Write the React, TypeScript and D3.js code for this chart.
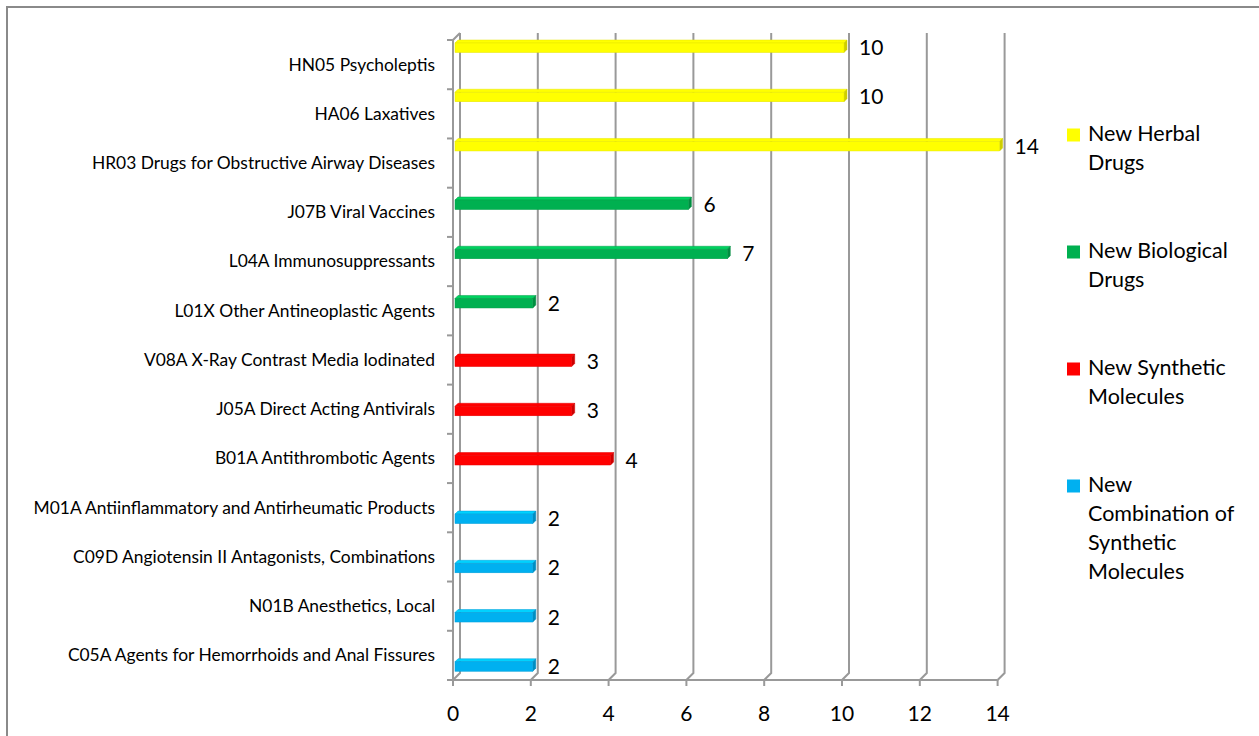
import React from "react";
import * as d3 from "d3";

// ATC categories, top to bottom
const categories = [
  "HN05 Psycholeptis",
  "HA06 Laxatives",
  "HR03 Drugs for Obstructive Airway Diseases",
  "J07B Viral Vaccines",
  "L04A Immunosuppressants",
  "L01X Other Antineoplastic Agents",
  "V08A X-Ray Contrast Media Iodinated",
  "J05A Direct Acting Antivirals",
  "B01A Antithrombotic Agents",
  "M01A Antiinflammatory and Antirheumatic Products",
  "C09D Angiotensin II Antagonists, Combinations",
  "N01B Anesthetics, Local",
  "C05A Agents for Hemorrhoids and Anal Fissures",
];

// series shown top to bottom within each category slot
const seriesNames = [
  "New Herbal Drugs",
  "New Biological Drugs",
  "New Synthetic Molecules",
  "New Combination of Synthetic Molecules",
];
const legendLines = [
  ["New Herbal", "Drugs"],
  ["New Biological", "Drugs"],
  ["New Synthetic", "Molecules"],
  ["New", "Combination of", "Synthetic", "Molecules"],
];
const seriesColors = ["#FFFF00", "#00B050", "#FF0000", "#00B0F0"];

// one value per category; null where the series has no bar
const herbal = [10, 10, 14, null, null, null, null, null, null, null, null, null, null];
const biological = [null, null, null, 6, 7, 2, null, null, null, null, null, null, null];
const synthetic = [null, null, null, null, null, null, 3, 3, 4, null, null, null, null];
const combination = [null, null, null, null, null, null, null, null, null, 2, 2, 2, 2];
const seriesValues = [herbal, biological, synthetic, combination];

const xTicks = [0, 2, 4, 6, 8, 10, 12, 14];

const W = 1259;
const H = 736;
const DX = 7; // wall depth offset
const DY = -7;
const BD = 3; // bar depth

export default function App() {
  const floorY = 680;
  const topY = 40;
  const x = d3.scaleLinear().domain([0, 14]).range([453, 997.6]);
  const y = d3.scaleBand().domain(categories).range([topY, floorY]).padding(0);
  const sub = d3
    .scaleBand<string>()
    .domain(seriesNames)
    .range([3, 3 + 4 * 9.33]);
  const barH = 9.5;
  const grid = "#999999";
  const labelFont = "Lato, 'Open Sans', sans-serif";

  const bars: React.ReactNode[] = [];
  seriesValues.forEach((vals, si) => {
    const base = d3.color(seriesColors[si])!;
    const top = base.brighter(0.5).formatHex();
    const side = base.darker(0.6).formatHex();
    const edge = base.darker(0.3).formatHex();
    vals.forEach((v, ci) => {
      if (v == null) return;
      const y0 = (y(categories[ci]) as number) + (sub(seriesNames[si]) as number);
      const x0 = x(0) + 2;
      const x1 = x(v) + 2;
      bars.push(
        <g key={`b-${si}-${ci}`}>
          <polygon
            points={`${x0},${y0} ${x0 + BD},${y0 - BD} ${x1 + BD},${y0 - BD} ${x1},${y0}`}
            fill={top}
            stroke={edge}
            strokeWidth={0.5}
          />
          <polygon
            points={`${x1},${y0} ${x1 + BD},${y0 - BD} ${x1 + BD},${y0 + barH - BD} ${x1},${y0 + barH}`}
            fill={side}
            stroke={side}
            strokeWidth={0.5}
          />
          <rect x={x0} y={y0} width={x1 - x0} height={barH} fill={seriesColors[si]} stroke={edge} strokeWidth={0.5} />
          <text
            x={x(v) + 17}
            y={y0 + barH / 2 + 2}
            dominantBaseline="middle"
            fontFamily={labelFont}
            fontSize={21}
            fill="#000"
          >
            {v}
          </text>
        </g>
      );
    });
  });

  return (
    <svg width={W} height={H} style={{ position: "absolute", left: 0, top: 0, background: "#fff" }}>
      <rect x={7} y={7} width={W + 20} height={H + 20} fill="#fff" stroke="#8a8a8a" strokeWidth={2} />

      {/* back wall gridlines with their floor diagonals */}
      {xTicks.map((t) => (
        <path
          key={`g-${t}`}
          d={`M${x(t) + DX},${topY + DY} L${x(t) + DX},${floorY + DY} L${x(t)},${floorY}`}
          fill="none"
          stroke={grid}
          strokeWidth={2}
        />
      ))}
      {/* left wall edge */}
      <path
        d={`M${x(0) + DX},${topY + DY} L${x(0)},${topY} L${x(0)},${floorY}`}
        fill="none"
        stroke={grid}
        strokeWidth={2}
      />
      {/* floor front edge */}
      <line x1={x(0) - 6} x2={x(14)} y1={floorY} y2={floorY} stroke={grid} strokeWidth={2} />
      {/* x ticks */}
      {xTicks.map((t) => (
        <line key={`xt-${t}`} x1={x(t)} x2={x(t)} y1={floorY} y2={floorY + 6} stroke={grid} strokeWidth={2} />
      ))}
      {/* category ticks */}
      {[...categories.map((c) => y(c) as number), floorY].map((yy, i) => (
        <line key={`yt-${i}`} x1={x(0) - 6} x2={x(0)} y1={yy} y2={yy} stroke={grid} strokeWidth={2} />
      ))}

      {bars}

      {/* category labels */}
      {categories.map((c) => (
        <text
          key={`cl-${c}`}
          x={435}
          y={(y(c) as number) + y.bandwidth() / 2 + 1.5}
          textAnchor="end"
          dominantBaseline="middle"
          fontFamily={labelFont}
          fontSize={17.4}
          fill="#000"
        >
          {c}
        </text>
      ))}

      {/* x tick labels */}
      {xTicks.map((t) => (
        <text
          key={`xl-${t}`}
          x={x(t)}
          y={716}
          textAnchor="middle"
          dominantBaseline="middle"
          fontFamily={labelFont}
          fontSize={21}
          fill="#000"
        >
          {t}
        </text>
      ))}

      {/* legend */}
      {seriesNames.map((s, i) => {
        const ly = 136 + i * 117;
        return (
          <g key={`lg-${s}`}>
            <rect x={1067} y={ly - 7.5} width={13} height={13} fill={seriesColors[i]} />
            {legendLines[i].map((ln, j) => (
              <text
                key={j}
                x={1088}
                y={ly + j * 29}
                dominantBaseline="middle"
                fontFamily={labelFont}
                fontSize={21.5}
                fill="#000"
              >
                {ln}
              </text>
            ))}
          </g>
        );
      })}
    </svg>
  );
}
